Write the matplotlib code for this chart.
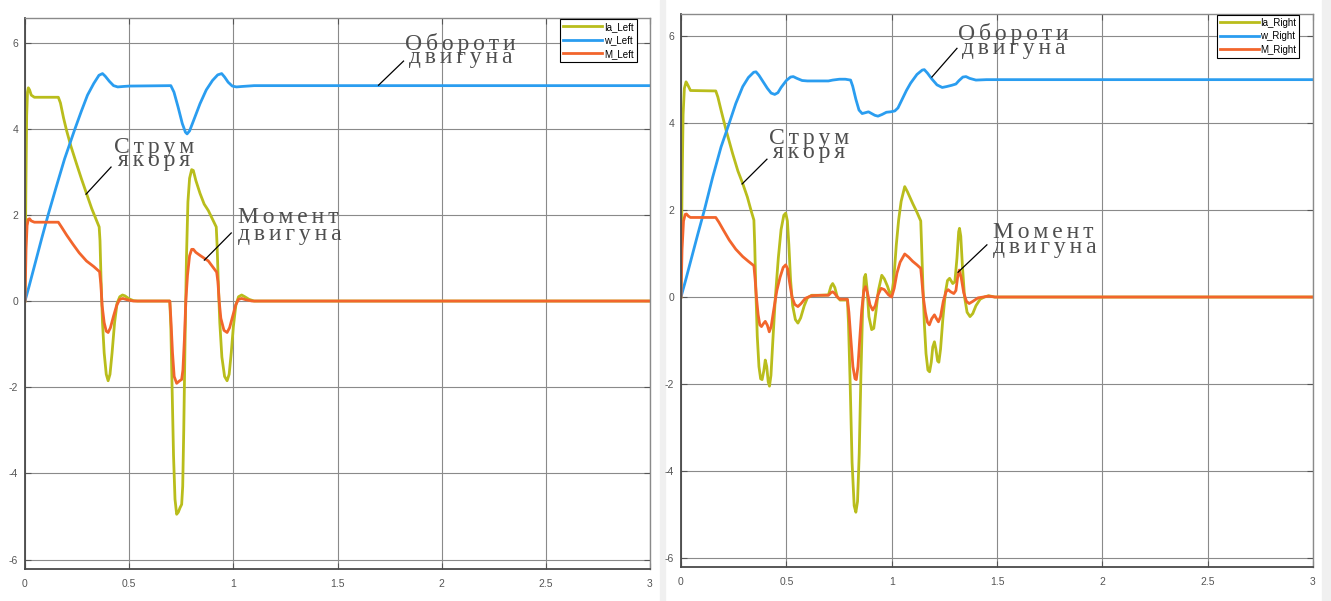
import numpy as np
import matplotlib.pyplot as plt
from matplotlib.patches import Rectangle

# ---- left drive: (time, value) points ----
left_ia = [(0, 0), (0.004, 2.5), (0.008, 4.3), (0.012, 4.85), (0.016, 4.95), (0.022, 4.9), (0.03, 4.78),
           (0.045, 4.73), (0.16, 4.73), (0.17, 4.6), (0.185, 4.25), (0.2, 3.95), (0.22, 3.6), (0.247, 3.19),
           (0.27, 2.85), (0.295, 2.5), (0.32, 2.15), (0.345, 1.85), (0.356, 1.72), (0.36, 1.4), (0.365, 0.5),
           (0.372, -0.5), (0.38, -1.2), (0.39, -1.7), (0.399, -1.85), (0.408, -1.7), (0.418, -1.2), (0.43, -0.5),
           (0.442, -0.05), (0.455, 0.1), (0.468, 0.14), (0.48, 0.12), (0.5, 0.05), (0.52, 0.01), (0.54, 0),
           (0.695, 0), (0.7, -0.6), (0.706, -2.0), (0.713, -3.6), (0.72, -4.6), (0.728, -4.95), (0.736, -4.9),
           (0.744, -4.8), (0.752, -4.72), (0.757, -4.3), (0.762, -3.0), (0.768, -1.0), (0.775, 1.0), (0.782, 2.3),
           (0.79, 2.85), (0.8, 3.05), (0.808, 3.03), (0.82, 2.8), (0.84, 2.5), (0.86, 2.25), (0.88, 2.1),
           (0.9, 1.9), (0.918, 1.72), (0.922, 1.3), (0.928, 0.4), (0.935, -0.5), (0.945, -1.3), (0.958, -1.75),
           (0.97, -1.85), (0.98, -1.7), (0.99, -1.2), (1.0, -0.6), (1.012, -0.1), (1.025, 0.1), (1.04, 0.14),
           (1.055, 0.1), (1.075, 0.04), (1.1, 0.0), (3.0, 0)]
left_w = [(0, 0), (0.02, 0.35), (0.05, 0.9), (0.08, 1.45), (0.111, 2.0), (0.15, 2.65), (0.19, 3.3), (0.24, 4.0),
          (0.27, 4.4), (0.3, 4.78), (0.33, 5.05), (0.355, 5.24), (0.372, 5.28), (0.385, 5.22), (0.405, 5.1),
          (0.425, 5.0), (0.445, 4.97), (0.47, 4.98), (0.5, 4.99), (0.7, 5.0), (0.715, 4.85), (0.735, 4.5),
          (0.755, 4.12), (0.77, 3.92), (0.778, 3.88), (0.79, 3.95), (0.81, 4.2), (0.84, 4.58), (0.87, 4.9),
          (0.9, 5.12), (0.925, 5.25), (0.944, 5.28), (0.958, 5.2), (0.975, 5.08), (0.995, 4.99), (1.015, 4.97),
          (1.04, 4.98), (1.1, 5.0), (3.0, 5.0)]
left_m = [(0, 0), (0.005, 1.2), (0.01, 1.75), (0.016, 1.9), (0.022, 1.91), (0.03, 1.86), (0.045, 1.83),
          (0.16, 1.83), (0.175, 1.72), (0.2, 1.53), (0.23, 1.32), (0.26, 1.12), (0.295, 0.93), (0.33, 0.8),
          (0.358, 0.68), (0.364, 0.4), (0.37, -0.1), (0.38, -0.5), (0.39, -0.7), (0.399, -0.73), (0.41, -0.62),
          (0.425, -0.35), (0.44, -0.1), (0.455, 0.04), (0.47, 0.06), (0.49, 0.03), (0.52, 0), (0.695, 0),
          (0.7, -0.4), (0.708, -1.2), (0.716, -1.75), (0.728, -1.91), (0.74, -1.86), (0.752, -1.82),
          (0.758, -1.6), (0.765, -0.9), (0.772, 0), (0.78, 0.6), (0.79, 1.05), (0.8, 1.2), (0.808, 1.2),
          (0.82, 1.13), (0.84, 1.06), (0.88, 0.93), (0.9, 0.8), (0.92, 0.67), (0.926, 0.45), (0.932, 0.0),
          (0.94, -0.4), (0.955, -0.68), (0.97, -0.73), (0.982, -0.62), (0.997, -0.35), (1.012, -0.08),
          (1.025, 0.04), (1.04, 0.06), (1.06, 0.03), (1.09, 0), (3.0, 0)]

# ---- right drive ----
right_ia = [(0, 0), (0.005, 2.5), (0.01, 4.2), (0.016, 4.8), (0.024, 4.95), (0.032, 4.88), (0.045, 4.75),
            (0.165, 4.74), (0.175, 4.6), (0.19, 4.3), (0.214, 3.84), (0.245, 3.3), (0.27, 2.9), (0.293, 2.61),
            (0.315, 2.3), (0.332, 2.0), (0.346, 1.77), (0.35, 1.2), (0.355, 0.2), (0.362, -0.9), (0.37, -1.6),
            (0.378, -1.88), (0.385, -1.9), (0.393, -1.7), (0.4, -1.45), (0.407, -1.6), (0.414, -1.95),
            (0.42, -2.05), (0.427, -1.8), (0.436, -1.0), (0.448, 0.0), (0.462, 0.9), (0.475, 1.55), (0.488, 1.88),
            (0.497, 1.93), (0.505, 1.75), (0.512, 1.2), (0.52, 0.4), (0.53, -0.2), (0.543, -0.52), (0.555, -0.6),
            (0.568, -0.48), (0.585, -0.2), (0.6, -0.02), (0.62, 0.04), (0.66, 0.04), (0.7, 0.05), (0.712, 0.25),
            (0.72, 0.31), (0.73, 0.22), (0.742, 0.0), (0.755, -0.07), (0.79, -0.07), (0.795, -0.6), (0.803, -2.0),
            (0.812, -3.8), (0.822, -4.8), (0.83, -4.95), (0.838, -4.7), (0.846, -3.6), (0.854, -1.8),
            (0.862, -0.3), (0.87, 0.45), (0.876, 0.52), (0.883, 0.2), (0.892, -0.45), (0.905, -0.75),
            (0.915, -0.72), (0.925, -0.35), (0.937, 0.15), (0.953, 0.5), (0.965, 0.42), (0.98, 0.25),
            (0.993, 0.06), (1.0, 0.05), (1.01, 0.4), (1.022, 1.2), (1.033, 1.77), (1.045, 2.2), (1.062, 2.54),
            (1.075, 2.42), (1.1, 2.15), (1.12, 1.95), (1.138, 1.75), (1.142, 1.2), (1.148, 0.3), (1.155, -0.6),
            (1.163, -1.3), (1.172, -1.68), (1.18, -1.72), (1.188, -1.5), (1.195, -1.15), (1.203, -1.03),
            (1.21, -1.2), (1.218, -1.47), (1.224, -1.5), (1.232, -1.2), (1.243, -0.5), (1.255, 0.1),
            (1.265, 0.38), (1.275, 0.43), (1.29, 0.31), (1.3, 0.35), (1.31, 0.9), (1.318, 1.5), (1.322, 1.58),
            (1.328, 1.4), (1.336, 0.7), (1.346, 0.0), (1.358, -0.35), (1.372, -0.45), (1.385, -0.38),
            (1.4, -0.2), (1.42, -0.05), (1.44, 0.0), (1.46, 0.03), (1.49, 0.0), (3.0, 0)]
right_w = [(0, 0), (0.02, 0.35), (0.05, 0.9), (0.08, 1.45), (0.111, 2.0), (0.15, 2.75), (0.19, 3.45),
           (0.229, 4.0), (0.26, 4.45), (0.293, 4.84), (0.32, 5.05), (0.345, 5.17), (0.356, 5.18), (0.37, 5.1),
           (0.39, 4.95), (0.41, 4.8), (0.428, 4.69), (0.445, 4.66), (0.46, 4.7), (0.475, 4.82), (0.5, 4.98),
           (0.52, 5.06), (0.533, 5.07), (0.55, 5.03), (0.575, 4.98), (0.6, 4.97), (0.7, 4.97), (0.72, 4.99),
           (0.752, 5.01), (0.78, 5.01), (0.805, 4.99), (0.815, 4.85), (0.83, 4.55), (0.845, 4.3), (0.86, 4.22),
           (0.875, 4.24), (0.89, 4.26), (0.905, 4.22), (0.92, 4.18), (0.935, 4.16), (0.955, 4.2), (0.975, 4.25),
           (0.995, 4.26), (1.015, 4.28), (1.03, 4.35), (1.05, 4.55), (1.07, 4.75), (1.09, 4.92), (1.12, 5.12),
           (1.145, 5.22), (1.155, 5.23), (1.17, 5.15), (1.19, 5.02), (1.215, 4.88), (1.24, 4.82), (1.26, 4.84),
           (1.285, 4.87), (1.305, 4.9), (1.32, 4.98), (1.338, 5.06), (1.353, 5.07), (1.37, 5.03), (1.4, 4.99),
           (1.45, 5.0), (3.0, 5.0)]
right_m = [(0, 0), (0.005, 1.1), (0.012, 1.75), (0.02, 1.9), (0.026, 1.91), (0.035, 1.86), (0.045, 1.83),
           (0.165, 1.83), (0.18, 1.72), (0.2, 1.55), (0.229, 1.31), (0.26, 1.1), (0.293, 0.93), (0.32, 0.82),
           (0.346, 0.72), (0.352, 0.4), (0.358, 0.0), (0.366, -0.4), (0.374, -0.64), (0.382, -0.68),
           (0.39, -0.62), (0.4, -0.56), (0.41, -0.65), (0.419, -0.8), (0.428, -0.68), (0.44, -0.3),
           (0.455, 0.15), (0.47, 0.45), (0.485, 0.68), (0.497, 0.74), (0.506, 0.65), (0.515, 0.35),
           (0.527, 0.0), (0.54, -0.17), (0.555, -0.22), (0.57, -0.15), (0.59, -0.03), (0.62, 0.03), (0.66, 0.04),
           (0.7, 0.04), (0.712, 0.1), (0.72, 0.12), (0.73, 0.08), (0.742, 0.0), (0.755, -0.05), (0.79, -0.05),
           (0.797, -0.35), (0.806, -0.95), (0.816, -1.6), (0.826, -1.88), (0.832, -1.9), (0.84, -1.6),
           (0.848, -1.0), (0.858, -0.3), (0.868, 0.15), (0.876, 0.24), (0.885, 0.1), (0.897, -0.18),
           (0.91, -0.3), (0.922, -0.2), (0.935, 0.05), (0.95, 0.2), (0.965, 0.17), (0.985, 0.05), (1.0, 0.0),
           (1.012, 0.2), (1.025, 0.55), (1.04, 0.8), (1.062, 0.99), (1.08, 0.92), (1.1, 0.82), (1.12, 0.74),
           (1.138, 0.66), (1.143, 0.4), (1.15, 0.0), (1.16, -0.35), (1.17, -0.58), (1.179, -0.64), (1.19, -0.5),
           (1.203, -0.41), (1.213, -0.5), (1.222, -0.57), (1.232, -0.45), (1.245, -0.1), (1.258, 0.12),
           (1.268, 0.17), (1.28, 0.12), (1.295, 0.08), (1.305, 0.15), (1.313, 0.45), (1.321, 0.62),
           (1.33, 0.45), (1.342, 0.1), (1.355, -0.1), (1.368, -0.15), (1.385, -0.1), (1.41, -0.02),
           (1.435, 0.0), (1.46, 0.02), (1.49, 0.0), (3.0, 0)]

left_names = ['Ia_Left', 'w_Left', 'M_Left']
right_names = ['Ia_Right', 'w_Right', 'M_Right']
x_ticks = [0, 0.5, 1, 1.5, 2, 2.5, 3]
x_labels = ['0', '0.5', '1', '1.5', '2', '2.5', '3']
y_ticks = [-6, -4, -2, 0, 2, 4, 6]
y_labels = ['-6', '-4', '-2', '0', '2', '4', '6']

colors = ['#b9bd1c', '#2a9df0', '#f2652c']
serif = ['Liberation Serif', 'DejaVu Serif']
sans = ['Liberation Sans', 'DejaVu Sans']
txt_color = '#4f4f4f'
gap = '\u2006'  # six-per-em space between letters


def caption(ax, pos, lines, tip, start, ls=0.55, indent=''):
    # two tightly packed lines of serif text plus a thin leader line
    first = gap.join(lines[0])
    second = indent + gap.join(lines[1])
    ax.text(pos[0], pos[1], first + '\n' + second, family=serif, fontsize=17, color=txt_color,
            va='top', ha='left', linespacing=ls, zorder=6)
    ax.plot([start[0], tip[0]], [start[1], tip[1]], color='black', lw=0.9, zorder=6)


def panel(ax, series, names, ylim):
    for pts, c, n in zip(series, colors, names):
        t, v = np.array(pts).T
        ax.plot(t, v, color=c, lw=2.0, label=n, solid_joinstyle='round')
    ax.set_xlim(0, 3)
    ax.set_ylim(*ylim)
    ax.set_xticks(x_ticks)
    ax.set_xticklabels(x_labels, family=sans, fontsize=7.5, color='#555555')
    ax.set_yticks(y_ticks)
    ax.set_yticklabels(y_labels, family=sans, fontsize=7.5, color='#555555')
    ax.grid(True, color='#8a8a8a', lw=0.8)
    ax.tick_params(direction='in', length=4, width=0.8, color='#555555', top=True, right=True)
    ax.tick_params(axis='y', pad=5)
    ax.tick_params(axis='x', pad=7)
    for side in ['left', 'bottom']:
        ax.spines[side].set_color('#4a4a4a')
        ax.spines[side].set_linewidth(1.3)
    for side in ['top', 'right']:
        ax.spines[side].set_color('#8a8a8a')
        ax.spines[side].set_linewidth(1.0)
    leg = ax.legend(loc='upper right', bbox_to_anchor=(0.98, 1.0), prop={'family': sans, 'size': 7},
                    frameon=True, fancybox=False, framealpha=1, edgecolor='black', borderpad=0.3,
                    labelspacing=0.35, handlelength=4.0, handletextpad=0.2, borderaxespad=0.1)
    leg.get_frame().set_linewidth(0.8)
    for ln in leg.get_lines():
        ln.set_linewidth(2.0)


fig = plt.figure(figsize=(13.31, 6.01), dpi=100)
# light gray window edges between and after the two scopes
fig.patches.append(Rectangle((660 / 1331, 0), 5 / 1331, 1, transform=fig.transFigure,
                             color='#f0f0f0', zorder=-1))
fig.patches.append(Rectangle((1322 / 1331, 0), 9 / 1331, 1, transform=fig.transFigure,
                             color='#f0f0f0', zorder=-1))

ax1 = fig.add_axes([25 / 1331, 32 / 601, 625 / 1331, 551 / 601])
ax2 = fig.add_axes([681 / 1331, 34 / 601, 632 / 1331, 553 / 601])

panel(ax1, [left_ia, left_w, left_m], left_names, (-6.22, 6.57))
panel(ax2, [right_ia, right_w, right_m], right_names, (-6.21, 6.51))

caption(ax1, (0.428, 3.81), ['Струм', 'якоря'], (0.293, 2.48), (0.413, 3.11), ls=0.5, indent='\u2006')
caption(ax1, (1.024, 2.18), ['Момент', 'двигуна'], (0.861, 0.95), (0.99, 1.58), ls=0.72)
caption(ax1, (1.822, 6.22), ['Обороти', 'двигуна'], (1.697, 5.01), (1.817, 5.57), ls=0.5, indent='\u2006')

caption(ax2, (0.418, 3.885), ['Струм', 'якоря'], (0.29, 2.6), (0.408, 3.17), ls=0.55, indent='\u2006')
caption(ax2, (1.315, 6.30), ['Обороти', 'двигуна'], (1.191, 5.06), (1.31, 5.72), ls=0.55, indent='\u2006')
caption(ax2, (1.481, 1.72), ['Момент', 'двигуна'], (1.315, 0.57), (1.452, 1.2), ls=0.6)

fig.savefig('out.png', dpi=100)
